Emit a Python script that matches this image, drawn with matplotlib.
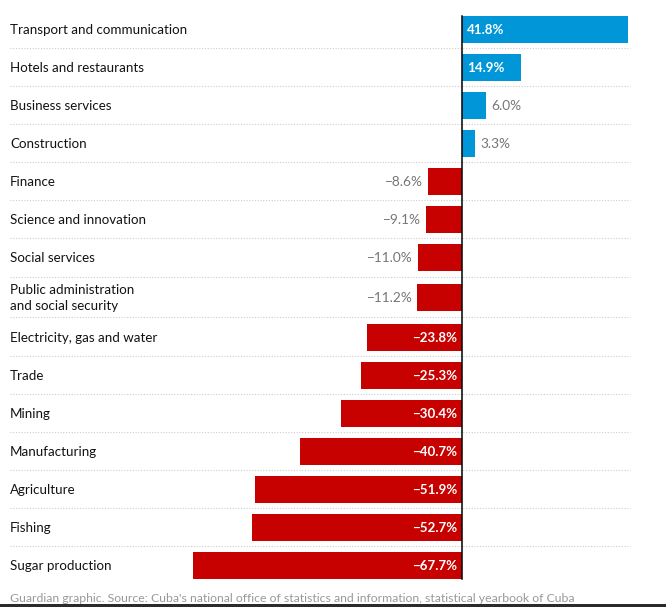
import matplotlib
matplotlib.use("Agg")
import matplotlib.pyplot as plt
from matplotlib.patches import Rectangle

categories = [
    "Transport and communication",
    "Hotels and restaurants",
    "Business services",
    "Construction",
    "Finance",
    "Science and innovation",
    "Social services",
    "Public administration\nand social security",
    "Electricity, gas and water",
    "Trade",
    "Mining",
    "Manufacturing",
    "Agriculture",
    "Fishing",
    "Sugar production",
]
values = [41.8, 14.9, 6.0, 3.3, -8.6, -9.1, -11.0, -11.2,
          -23.8, -25.3, -30.4, -40.7, -51.9, -52.7, -67.7]
source = "Guardian graphic. Source: Cuba's national office of statistics and information, statistical yearbook of Cuba"

W, H = 666, 607
FONT = "Lato"
BLUE = "#0096d8"
RED = "#c70000"
GREY = "#767676"

fig = plt.figure(figsize=(W / 100, H / 100), dpi=100)
ax = fig.add_axes([0, 0, 1, 1])
px = 3.98  # pixels per percentage point
zero_px = 462
ax.set_xlim(-zero_px / px, (W - zero_px) / px)
ax.set_ylim(H, 0)
ax.axis("off")

# row centres in pixel units (two-line row slightly taller)
ys = []
y = 29
for i in range(len(categories)):
    if i > 0:
        step = 40 if i in (7, 8) else 38
        y += step
    ys.append(y)

bar_h = 27
colors = [BLUE if v > 0 else RED for v in values]
ax.barh(ys, values, height=bar_h, color=colors, zorder=2)

trans_lab = ax.get_yaxis_transform()
x_left = 10 / W
x_right_px = 630
dy = 1.0
for i, (cat, v, yc) in enumerate(zip(categories, values, ys)):
    ax.text(x_left, yc + dy, cat, transform=trans_lab, ha="left", va="center",
            fontsize=9.6, family=FONT, color="#121212", linespacing=1.3)
    lbl = f"{abs(v):.1f}%" if v > 0 else f"\u2212{abs(v):.1f}%"
    inside = abs(v) > 12
    off = 5 / px
    if inside:
        if v > 0:
            ax.text(off, yc + dy, lbl, ha="left", va="center", fontsize=9.6,
                    family=FONT, color="white", fontweight="bold", zorder=3)
        else:
            ax.text(-off, yc + dy, lbl, ha="right", va="center", fontsize=9.6,
                    family=FONT, color="white", fontweight="bold", zorder=3)
    else:
        if v > 0:
            ax.text(v + off, yc + dy, lbl, ha="left", va="center", fontsize=9.8,
                    family=FONT, color=GREY, zorder=3)
        else:
            ax.text(v - off, yc + dy, lbl, ha="right", va="center", fontsize=9.8,
                    family=FONT, color=GREY, zorder=3)

# dotted separators
for a, b in zip(ys[:-1], ys[1:]):
    ym = (a + b) / 2
    ax.plot([x_left, x_right_px / W], [ym, ym], transform=trans_lab,
            color="#cccccc", lw=0.8, ls=(0, (1, 1.5)), zorder=1)

# zero line
ax.plot([0, 0], [ys[0] - bar_h / 2, ys[-1] + bar_h / 2], color="black",
        lw=1.1, zorder=4)

fig.text(10 / W, 1 - 598 / H, source, ha="left", va="center", fontsize=8.8,
         family=FONT, color="#999999")

# bottom dark strip
fig.patches.append(Rectangle((0, 0), 1, 3 / H, transform=fig.transFigure,
                             facecolor="#2b2b2b", edgecolor="none"))

fig.savefig("out.png", dpi=100)
